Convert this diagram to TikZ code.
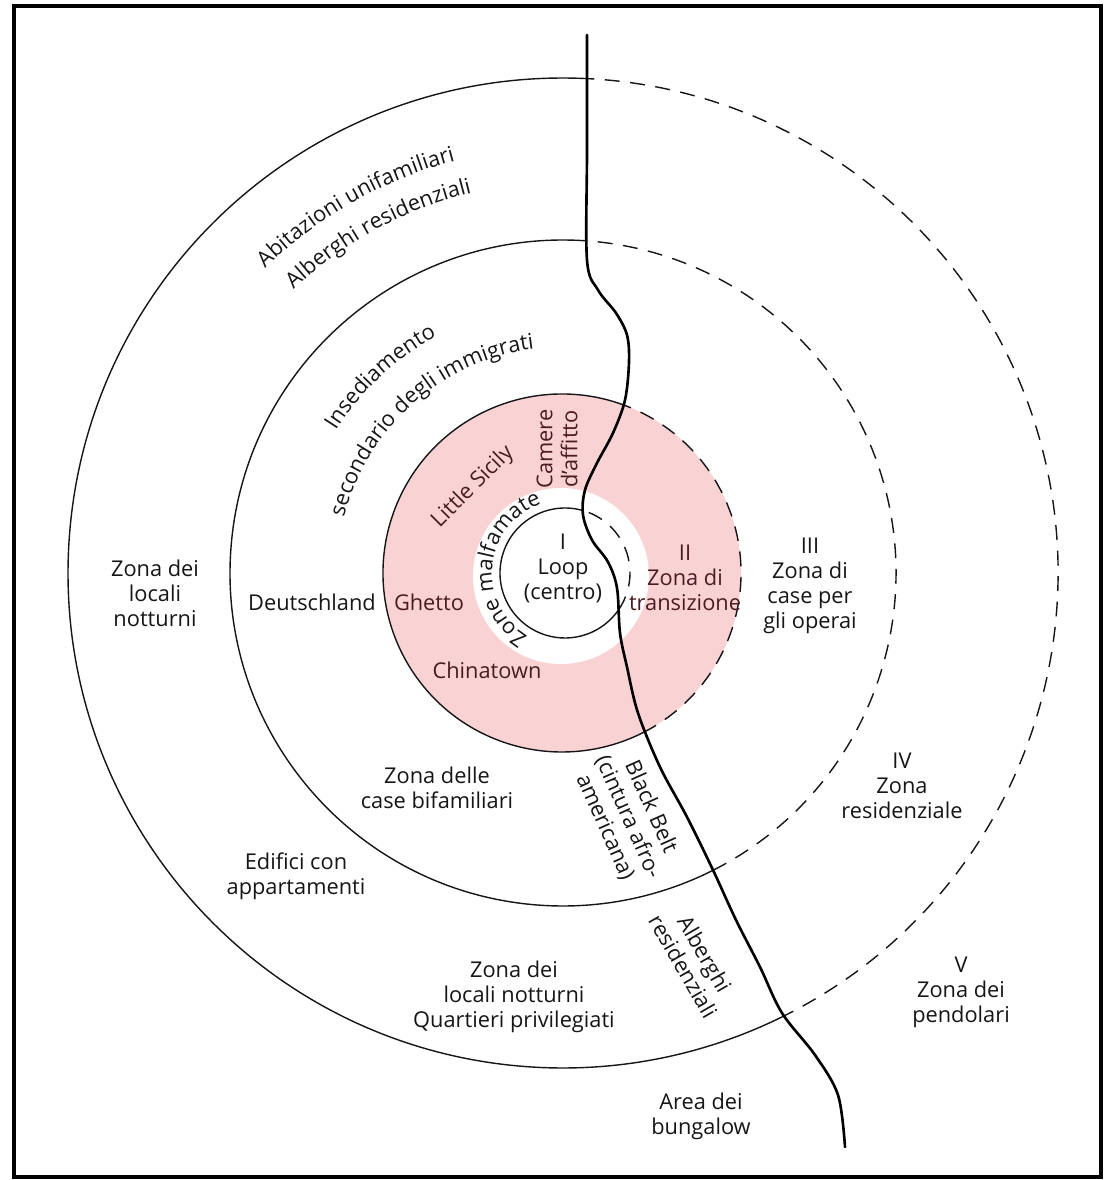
\documentclass[tikz,border=0pt]{standalone}
\usepackage{fontspec}
\setmainfont{Open Sans}
\usetikzlibrary{calc,decorations.text}
\definecolor{ink}{RGB}{22,22,24}
\definecolor{maroon}{RGB}{74,28,33}
\definecolor{blush}{RGB}{249,211,212}
\newcommand\arcfont{\fontsize{12.4}{14.2}\selectfont}

\begin{document}
\begin{tikzpicture}[
  x=0.02cm, y=0.02cm,
  font=\fontsize{12.4}{14.2}\selectfont,
  lbl/.style={align=center, text=ink, inner sep=0pt},
  plbl/.style={lbl, text=maroon},
  ring/.style={draw=ink, line width=0.8pt},
  ringd/.style={ring, dash pattern=on 8.5pt off 6pt},
  road/.style={draw=black, line width=1.5pt, line cap=round},
  arclbl/.style={decorate, decoration={text along path, text align=center, text color=ink, text={|\arcfont|#1}}},
]
\useasboundingbox (0,0) rectangle (1104,-1180);
\coordinate (C) at (563,-573);
\coordinate (P) at (562,-573);
\coordinate (W) at (561,-576);
\coordinate (L) at (565,-573);

% ---------------------------------------------------------------- zones
\fill[blush] (P) circle[radius=179];
\fill[white] (W) circle[radius=88];

% solid west of the river, dashed east of it
\foreach \r/\a/\b in {495/87.2/296, 333/85.9/296.8}{
  \draw[ring] ($(C)+(\a:\r)$) arc[start angle=\a, end angle=\b, radius=\r];
  \draw[ringd] ($(C)+(\b-360:\r)$) arc[start angle=\b-360, end angle=\a, radius=\r];
}
\draw[ring] ($(P)+(69.4:179)$) arc[start angle=69.4, end angle=296.9, radius=179];
\draw[ringd] ($(P)+(-63.1:179)$) arc[start angle=-63.1, end angle=69.4, radius=179];
\draw[ring] ($(L)+(73:65)$) arc[start angle=73, end angle=325.6, radius=65];
\draw[ringd] ($(L)+(-34.4:65)$) arc[start angle=-34.4, end angle=73, radius=65];

% ---------------------------------------------------------------- river
\draw[road] plot[smooth, tension=0.55] coordinates {
  (587,-35) (587,-150) (587,-260) (598,-290) (616,-313) (627,-335) (629,-362)
  (625,-400) (613,-433) (597,-463) (585,-490) (583,-515) (592,-540) (608,-562)
  (617,-588) (620,-633) (627,-667) (638,-713) (660,-767) (687,-817) (713,-870)
  (736,-920) (760,-967) (782,-1013) (815,-1055) (838,-1095) (845,-1147)};

% ---------------------------------------------------------------- labels
\path[arclbl={Abitazioni unifamiliari}] ($(C)+(160:426)$) arc[start angle=160, end angle=79, radius=426];
\path[arclbl={Alberghi residenziali}] ($(C)+(159:391)$) arc[start angle=159, end angle=78, radius=391];
\path[arclbl={Insediamento}] ($(C)+(173:268)$) arc[start angle=173, end angle=93, radius=268];
\path[arclbl={secondario degli immigrati}] ($(C)+(180:226)$) arc[start angle=180, end angle=83, radius=226];
\path[arclbl={Zone malfamate}] ($(L)+(260:73)$) arc[start angle=260, end angle=88, radius=73];

\node[plbl, rotate=45] (sicily) at (473,-487) {Little Sicily};
\node[plbl, rotate=90] (camere) at (557,-449) {Camere\\d'affitto};
\node[lbl] (loop) at (563,-568) {I\\Loop\\(centro)};
\node[plbl] (trans) at (685,-578) {II\\Zona di\\transizione};
\node[plbl] (ghetto) at (429,-602) {Ghetto};
\node[lbl] (deutsch) at (312,-602) {Deutschland};
\node[plbl] (china) at (487,-670) {Chinatown};
\node[lbl] (nott) at (155,-593) {Zona dei\\locali\\notturni};
\node[lbl] (operai) at (810,-586) {III\\Zona di\\case per\\gli operai};
\node[lbl] (resid) at (902,-786) {IV\\Zona\\residenziale};
\node[lbl] (pendol) at (961,-992) {V\\Zona dei\\pendolari};
\node[lbl] (bifam) at (437,-788) {Zona delle\\case bifamiliari};
\node[lbl, rotate=-66] (belt) at (628,-817) {Black Belt\\(cintura afro-\\americana)};
\node[lbl] (edif) at (296,-876) {Edifici con\\appartamenti};
\node[lbl, rotate=-60] (alb) at (694,-960) {Alberghi\\residenziali};
\node[lbl] (quart) at (514,-997) {Zona dei\\locali notturni\\Quartieri privilegiati};
\node[lbl] (bung) at (701,-1116) {Area dei\\bungalow};

% frame
\draw[black, line width=2.2pt] (14,-6) rectangle (1101,-1177);
\end{tikzpicture}
\end{document}
